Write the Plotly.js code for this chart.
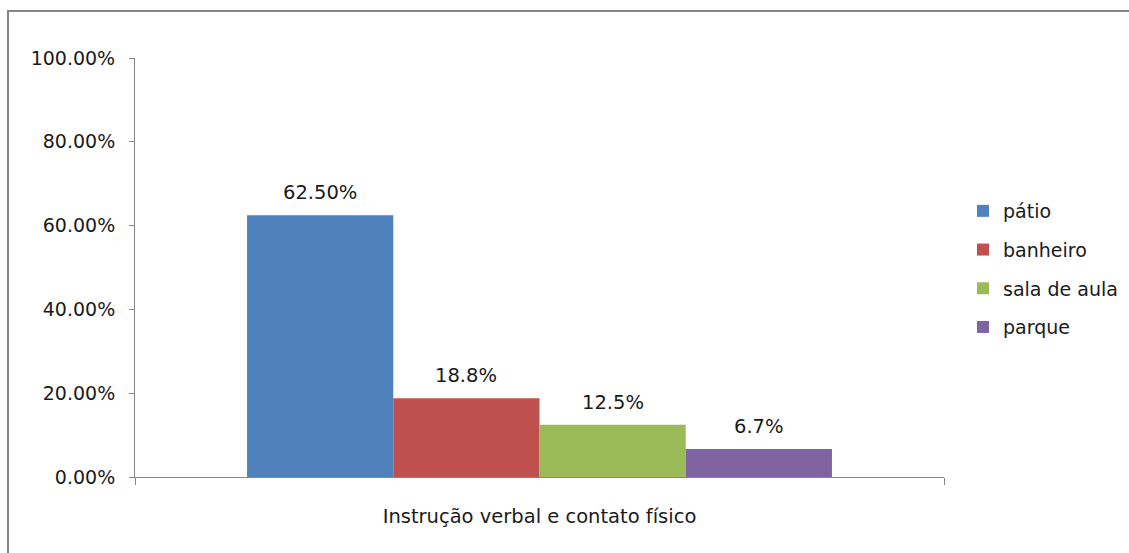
<!DOCTYPE html>
<html>
<head>
<meta charset="utf-8">
<script src="https://cdn.plot.ly/plotly-3.0.1.min.js"></script>
<style>
html,body{margin:0;padding:0;background:#fff;}
#chart{width:1129px;height:553px;}
</style>
</head>
<body>
<div id="chart"></div>
<script>
const category = ["Instrução verbal e contato físico"];
const seriesNames = ["pátio", "banheiro", "sala de aula", "parque"];
const seriesValues = [0.625, 0.188, 0.125, 0.067];
const seriesLabels = ["62.50%", "18.8%", "12.5%", "6.7%"];
const seriesColors = ["#4F81BD", "#C0504D", "#9BBB59", "#8064A2"];

const FONT = "DejaVu Sans, sans-serif";
const TXT = "#1a1a1a";
const L = 135, R = 185, T = 58, B = 76, W = 1129, H = 553;
const pw = W - L - R, ph = H - T - B;
const px = v => (v - L) / pw;
const py = v => (H - B - v) / ph;
const BARGAP = 0.277;

const traces = seriesNames.map((name, i) => ({
  type: "bar",
  name: name,
  x: category,
  y: [seriesValues[i]],
  marker: {color: seriesColors[i], line: {width: 0}},
  legendgroup: "g" + i,
  hoverinfo: "none"
}));

// value labels above each bar (positions follow the grouped-bar layout)
const groupW = 1 - BARGAP, n = seriesNames.length;
const annotations = seriesNames.map((name, i) => ({
  xref: "x", yref: "y",
  x: -groupW / 2 + (i + 0.5) * groupW / n,
  y: seriesValues[i],
  text: seriesLabels[i],
  showarrow: false,
  yanchor: "bottom",
  yshift: 9,
  font: {family: FONT, size: 19.5, color: TXT}
}));

const layout = {
  width: W, height: H,
  margin: {l: L, r: R, t: T, b: B, autoexpand: false},
  paper_bgcolor: "#fff", plot_bgcolor: "#fff",
  font: {family: FONT, size: 19, color: TXT},
  barmode: "group",
  bargap: BARGAP,
  bargroupgap: 0,
  showlegend: true,
  legend: {
    x: px(963), xanchor: "left",
    y: py(192), yanchor: "top",
    font: {family: FONT, size: 19, color: TXT},
    traceorder: "grouped",
    tracegroupgap: 11,
    bgcolor: "rgba(0,0,0,0)"
  },
  xaxis: {
    type: "category",
    range: [-0.5, 0.5],
    showline: true, linecolor: "#868686", linewidth: 1,
    ticks: "outside", tickson: "boundaries", ticklen: 7, tickcolor: "#868686",
    ticklabelstandoff: 22,
    showgrid: false, zeroline: false,
    tickfont: {family: FONT, size: 19.5, color: TXT}
  },
  yaxis: {
    range: [0, 1], dtick: 0.2, tick0: 0,
    tickformat: ".2%",
    showline: true, linecolor: "#868686", linewidth: 1,
    ticks: "outside", ticklen: 5, tickcolor: "#868686",
    ticklabelstandoff: 10,
    showgrid: false, zeroline: false,
    tickfont: {family: FONT, size: 19, color: TXT}
  },
  annotations: annotations,
  shapes: [{
    type: "rect", xref: "paper", yref: "paper",
    x0: px(8), x1: px(1140), y0: py(570), y1: py(11),
    line: {color: "#868686", width: 2}, fillcolor: "rgba(0,0,0,0)", layer: "below"
  }]
};

Plotly.newPlot("chart", traces, layout, {displayModeBar: false, staticPlot: true});
</script>
</body>
</html>
